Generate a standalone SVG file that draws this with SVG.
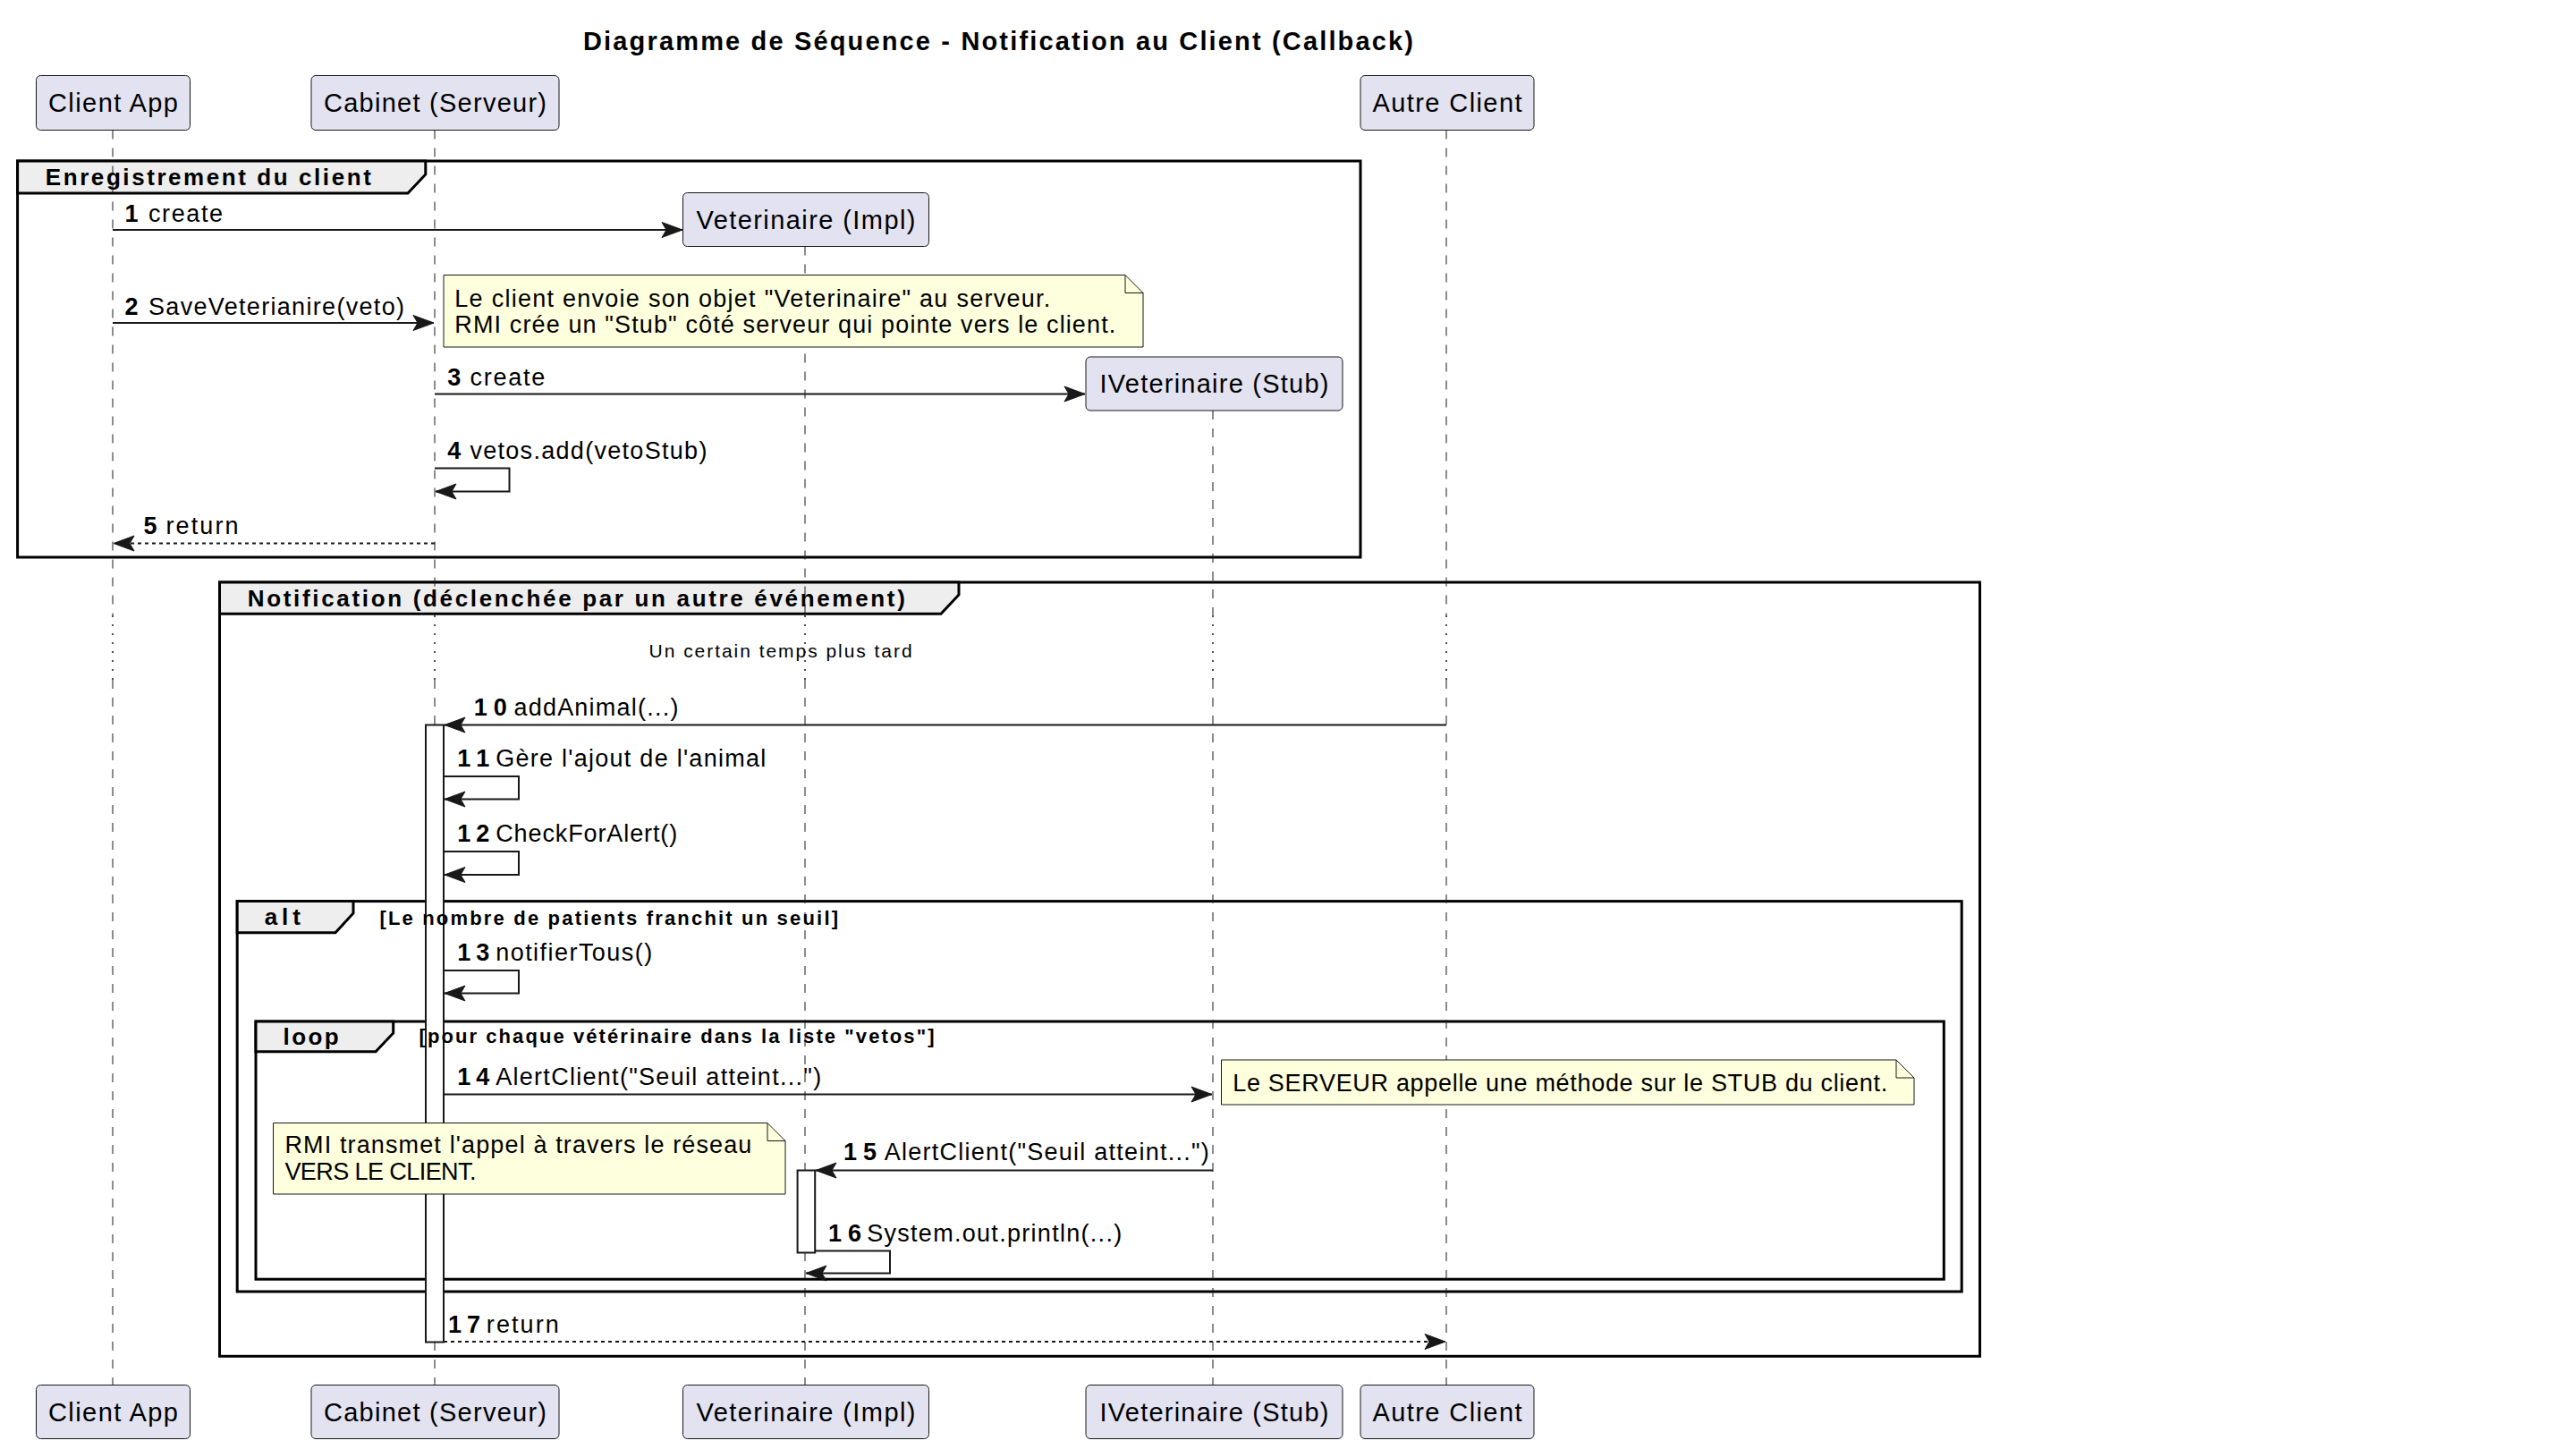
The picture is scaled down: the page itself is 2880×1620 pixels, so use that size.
<svg xmlns="http://www.w3.org/2000/svg" width="2880" height="1620" viewBox="0 0 2880 1620">
<style>
text{font-family:"Liberation Sans",Arial,Helvetica,sans-serif;fill:#000}
.pbox{fill:#E2E2F0;stroke:#181818;stroke-width:1}
.ptxt{font-size:29px}
.life{stroke:#181818;stroke-width:1;stroke-dasharray:10,10;fill:none}
.delay{stroke:#181818;stroke-width:1.5;stroke-dasharray:2,8;fill:none}
.frame{fill:none;stroke:#000;stroke-width:3}
.tab{fill:#EEEEEE;stroke:#000;stroke-width:3}
.ftxt{font-size:26px;font-weight:bold}
.guard{font-size:22px;font-weight:bold}
.msg{stroke:#181818;stroke-width:2;fill:none;marker-end:url(#arr)}
.ret{stroke:#181818;stroke-width:2;stroke-dasharray:4,4;fill:none;marker-end:url(#arr)}
.mtxt{font-size:27px}
.num{font-size:27px;font-weight:bold}
.note{fill:#FEFFDD;stroke:#181818;stroke-width:1}
.fold{fill:none;stroke:#181818;stroke-width:1}
.ntxt{font-size:27px}
.act{fill:#FFFFFF;stroke:#181818;stroke-width:2}
</style>
<defs>
<marker id="arr" markerUnits="userSpaceOnUse" markerWidth="28" markerHeight="22" refX="24" refY="10" orient="auto">
<path d="M1,1.5 L24,10 L1,18.5 L6,10 Z" fill="#181818" stroke="#181818" stroke-width="1" stroke-linejoin="round"/>
</marker>
</defs>
<rect width="2880" height="1620" fill="#FFFFFF"/>

<text id="title" x="652" y="56" font-size="29" font-weight="bold" textLength="928">Diagramme de Séquence - Notification au Client (Callback)</text>

<g id="frames">
<g id="frame-enregistrement">
<rect class="frame" x="19.6" y="180" width="1501.4" height="443"/>
<path class="tab" d="M19.6,180 H475.8 V195 L456,216 H19.6 Z"/>
</g>
<g id="frame-notification">
<rect class="frame" x="245.5" y="651" width="1968" height="865.3"/>
<path class="tab" d="M245.5,651 H1072 V665 L1052,686.3 H245.5 Z"/>
</g>
<g id="frame-alt">
<rect class="frame" x="265.2" y="1007.6" width="1928" height="436.4"/>
<path class="tab" d="M265.2,1007.6 H395 V1021 L375,1042.8 H265.2 Z"/>
</g>
<g id="frame-loop">
<rect class="frame" x="286" y="1142" width="1887.3" height="288.2"/>
<path class="tab" d="M286,1142 H439.7 V1155 L420,1175.7 H286 Z"/>
</g>
</g>

<g id="lifelines">
<path class="life" d="M126,145.5 V688 M126,760 V1548.5"/>
<path class="delay" d="M126,688 V760"/>
<path class="life" d="M486,145.5 V688 M486,760 V1548.5"/>
<path class="delay" d="M486,688 V760"/>
<path class="life" d="M900,275.5 V688 M900,760 V1548.5"/>
<path class="delay" d="M900,688 V760"/>
<path class="life" d="M1356,459 V688 M1356,760 V1548.5"/>
<path class="delay" d="M1356,688 V760"/>
<path class="life" d="M1617,145.5 V688 M1617,760 V1548.5"/>
<path class="delay" d="M1617,688 V760"/>
</g>

<text id="delay-label" x="725.6" y="734.6" font-size="21" textLength="294">Un certain temps plus tard</text>

<g id="activations">
<rect class="act" x="476" y="810.5" width="20" height="690"/>
<rect class="act" x="891.6" y="1308.5" width="19.6" height="92"/>
</g>

<g id="frame-labels">
<text class="ftxt" x="50.8" y="207" textLength="364">Enregistrement du client</text>
<text class="ftxt" x="276.8" y="677.5" textLength="735">Notification (déclenchée par un autre événement)</text>
<text class="ftxt" x="295.8" y="1034" textLength="40">alt</text>
<text class="guard" x="424.4" y="1034" textLength="512.6">[Le nombre de patients franchit un seuil]</text>
<text class="ftxt" x="316.6" y="1167.5" textLength="62">loop</text>
<text class="guard" x="468.5" y="1166" textLength="576">[pour chaque vétérinaire dans la liste "vetos"]</text>
</g>

<g id="connectors">
<path class="msg" d="M126,257 H763"/>
<path class="msg" d="M126,361 H485"/>
<path class="msg" d="M486,440.5 H1213"/>
<path class="msg" d="M486,523.5 H569.5 V549.5 H487"/>
<path class="ret" d="M486,607.5 H127"/>
<path class="msg" d="M1617,810.5 H497"/>
<path class="msg" d="M496,868 H580 V893.5 H497"/>
<path class="msg" d="M496,952 H580 V978 H497"/>
<path class="msg" d="M496,1085 H580 V1110.5 H497"/>
<path class="msg" d="M496,1223.5 H1355"/>
<path class="msg" d="M1356,1308.5 H912"/>
<path class="msg" d="M911,1398.5 H995 V1423.5 H901"/>
<path class="ret" d="M496,1500 H1616"/>
</g>

<g id="message-labels">
<text class="num" x="139.6" y="248">1</text><text class="mtxt" x="166" y="248" textLength="83">create</text>
<text class="num" x="139.6" y="352">2</text><text class="mtxt" x="166" y="352" textLength="286">SaveVeterianire(veto)</text>
<text class="num" x="500.3" y="430.5">3</text><text class="mtxt" x="525.4" y="430.5" textLength="84">create</text>
<text class="num" x="500.3" y="513">4</text><text class="mtxt" x="525.4" y="513" textLength="265">vetos.add(vetoStub)</text>
<text class="num" x="160.4" y="597">5</text><text class="mtxt" x="185.5" y="597" textLength="81">return</text>
<text class="num" x="529.7" y="800" textLength="37">10</text><text class="mtxt" x="574.4" y="800" textLength="184">addAnimal(...)</text>
<text class="num" x="511.3" y="857" textLength="36">11</text><text class="mtxt" x="554.2" y="857" textLength="302">Gère l'ajout de l'animal</text>
<text class="num" x="511.3" y="941" textLength="36">12</text><text class="mtxt" x="554.2" y="941" textLength="203">CheckForAlert()</text>
<text class="num" x="511.3" y="1074" textLength="36">13</text><text class="mtxt" x="554.2" y="1074" textLength="175">notifierTous()</text>
<text class="num" x="511.3" y="1212.6" textLength="36">14</text><text class="mtxt" x="554.2" y="1212.6" textLength="364">AlertClient("Seuil atteint...")</text>
<text class="num" x="943" y="1297" textLength="37">15</text><text class="mtxt" x="988.8" y="1297" textLength="363">AlertClient("Seuil atteint...")</text>
<text class="num" x="926" y="1388" textLength="37">16</text><text class="mtxt" x="969.2" y="1388" textLength="285">System.out.println(...)</text>
<text class="num" x="501" y="1490" textLength="36">17</text><text class="mtxt" x="543.8" y="1490" textLength="81">return</text>
</g>

<g id="note-vetoStub">
<path class="note" d="M496,307.5 H1258 L1278,327.5 V388 H496 Z"/>
<path class="fold" d="M1258,307.5 V327.5 H1278"/>
<text class="ntxt" x="508.3" y="342.6" textLength="666">Le client envoie son objet "Veterinaire" au serveur.</text>
<text class="ntxt" x="508.3" y="372" textLength="739">RMI crée un "Stub" côté serveur qui pointe vers le client.</text>
</g>
<g id="note-rmi">
<path class="note" d="M305.5,1255.5 H858 L878,1275.5 V1335 H305.5 Z"/>
<path class="fold" d="M858,1255.5 V1275.5 H878"/>
<text class="ntxt" x="318.4" y="1289.4" textLength="522">RMI transmet l'appel à travers le réseau</text>
<text class="ntxt" x="318.4" y="1318.6" textLength="214">VERS LE CLIENT.</text>
</g>
<g id="note-serveur">
<path class="note" d="M1365.5,1185 H2120 L2140,1205 V1235 H1365.5 Z"/>
<path class="fold" d="M2120,1185 V1205 H2140"/>
<text class="ntxt" x="1378.2" y="1219.5" textLength="732">Le SERVEUR appelle une méthode sur le STUB du client.</text>
</g>

<g id="p-client-app">
<rect class="pbox" x="40.5" y="84.5" width="172" height="61" rx="5"/>
<text class="ptxt" x="126.5" y="125" text-anchor="middle" textLength="145">Client App</text>
<rect class="pbox" x="40.5" y="1548.5" width="172" height="60" rx="5"/>
<text class="ptxt" x="126.5" y="1588.5" text-anchor="middle" textLength="145">Client App</text>
</g>
<g id="p-cabinet">
<rect class="pbox" x="348" y="84.5" width="277" height="61" rx="5"/>
<text class="ptxt" x="486.5" y="125" text-anchor="middle" textLength="249">Cabinet (Serveur)</text>
<rect class="pbox" x="348" y="1548.5" width="277" height="60" rx="5"/>
<text class="ptxt" x="486.5" y="1588.5" text-anchor="middle" textLength="249">Cabinet (Serveur)</text>
</g>
<g id="p-veterinaire-impl">
<rect class="pbox" x="763.5" y="215.5" width="275" height="60" rx="5"/>
<text class="ptxt" x="901" y="255.5" text-anchor="middle" textLength="245">Veterinaire (Impl)</text>
<rect class="pbox" x="763.5" y="1548.5" width="275" height="60" rx="5"/>
<text class="ptxt" x="901" y="1588.5" text-anchor="middle" textLength="245">Veterinaire (Impl)</text>
</g>
<g id="p-veterinaire-stub">
<rect class="pbox" x="1214" y="399" width="287" height="60" rx="5"/>
<text class="ptxt" x="1357.5" y="439" text-anchor="middle" textLength="256">IVeterinaire (Stub)</text>
<rect class="pbox" x="1214" y="1548.5" width="287" height="60" rx="5"/>
<text class="ptxt" x="1357.5" y="1588.5" text-anchor="middle" textLength="256">IVeterinaire (Stub)</text>
</g>
<g id="p-autre-client">
<rect class="pbox" x="1521" y="84.5" width="194" height="61" rx="5"/>
<text class="ptxt" x="1618" y="125" text-anchor="middle" textLength="167">Autre Client</text>
<rect class="pbox" x="1521" y="1548.5" width="194" height="60" rx="5"/>
<text class="ptxt" x="1618" y="1588.5" text-anchor="middle" textLength="167">Autre Client</text>
</g>
</svg>
